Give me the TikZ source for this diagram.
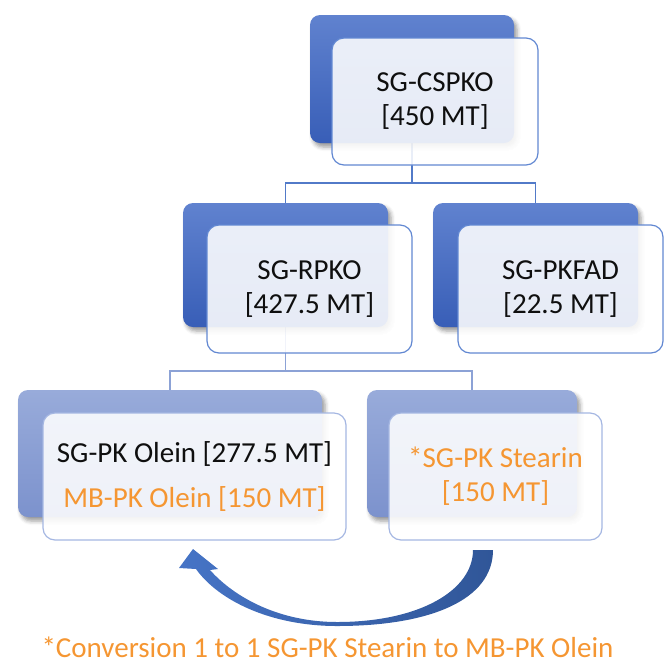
\documentclass[tikz,border=0pt]{standalone}
\usepackage{fontspec}
\setmainfont{Carlito}
\usetikzlibrary{shadows.blur,backgrounds}
\definecolor{dblueT}{RGB}{96,130,207}
\definecolor{dblueB}{RGB}{56,94,183}
\definecolor{lblueT}{RGB}{152,171,218}
\definecolor{lblueB}{RGB}{124,146,205}
\definecolor{edgeD}{RGB}{98,136,210}
\definecolor{edgeL}{RGB}{165,183,226}
\definecolor{lineD}{RGB}{82,122,200}
\definecolor{lineL}{RGB}{140,162,214}
\definecolor{orng}{RGB}{245,150,50}
\definecolor{txt}{RGB}{15,15,15}
\definecolor{arrL}{RGB}{70,116,198}
\definecolor{arrR}{RGB}{48,86,152}
\begin{document}
\begin{tikzpicture}[x=1pt,y=-1pt,
  backbox/.style={rounded corners=10pt, draw=none, inner sep=0pt, outer sep=0pt,
    blur shadow={shadow xshift=3pt, shadow yshift=-4pt, shadow blur radius=4pt, shadow opacity=40}},
  darkback/.style={backbox, top color=dblueT, bottom color=dblueB},
  lightback/.style={backbox, top color=lblueT, bottom color=lblueB},
  frontbox/.style={rounded corners=12pt, fill=white, fill opacity=0.88, text opacity=1,
    line width=1.2pt, inner sep=0pt, outer sep=0pt, align=center,
    font=\fontsize{29}{34}\selectfont, text=txt},
  darkfront/.style={frontbox, draw=edgeD},
  lightfront/.style={frontbox, draw=edgeL},
  linkD/.style={draw=lineD, line width=1.7pt},
  linkL/.style={draw=lineL, line width=1.7pt},
  arrowshape/.style={left color=arrL, right color=arrR, draw=none},
  caption/.style={font=\fontsize{29}{34}\selectfont, text=orng, anchor=base, inner sep=0pt}
]
\useasboundingbox (0,0) rectangle (666,665);

% top level
\node[darkback, minimum width=204pt, minimum height=128pt] (cspkoB) at (412,79) {};
\node[darkfront, minimum width=206pt, minimum height=127pt] (cspko) at (435,101.5) {SG-CSPKO\\{}[450 MT]};

% middle level
\node[darkback, minimum width=205pt, minimum height=124pt] (rpkoB) at (285.5,265) {};
\node[darkfront, minimum width=205pt, minimum height=128pt] (rpko) at (309.5,289) {SG-RPKO\\{}[427.5 MT]};
\node[darkback, minimum width=205pt, minimum height=124pt] (pkfadB) at (535.5,265) {};
\node[darkfront, minimum width=205pt, minimum height=128pt] (pkfad) at (560.5,289) {SG-PKFAD\\{}[22.5 MT]};

% bottom level
\node[lightback, minimum width=304pt, minimum height=127pt] (oleinB) at (170,453.5) {};
\node[lightfront, minimum width=303pt, minimum height=127pt] (olein) at (194.5,476.5)
  {SG-PK Olein [277.5 MT]\\[11pt]\textcolor{orng}{MB-PK Olein [150 MT]}};
\node[lightback, minimum width=210pt, minimum height=127pt] (stearinB) at (472,453.5) {};
\node[lightfront, minimum width=213pt, minimum height=127pt, text=orng] (stearin) at (495.5,476.5)
  {*SG-PK Stearin\\{}[150 MT]};

% connectors
\coordinate (j1) at (412,183);
\coordinate (j2) at (285.5,371);
\begin{scope}[on background layer]
  \draw[linkD] (cspkoB.south) -- (j1) -| (rpkoB.north);
  \draw[linkD] (j1) -| (pkfadB.north);
  \draw[linkL] (rpkoB.south) -- (j2) -| (oleinB.north);
  \draw[linkL] (j2) -| (stearinB.north);
\end{scope}

% curved conversion arrow
\coordinate (tailR) at (493,550);
\coordinate (tailL) at (473,550);
\coordinate (tip) at (193,549);
\shade[arrowshape] (tailR) .. controls (493,600) and (430,626) .. (337,626)
  .. controls (270,626) and (218,600) .. (196,569) -- (179,568) -- (tip) -- (218,569) -- (210,570)
  .. controls (235,598) and (280,622) .. (337,622)
  .. controls (420,622) and (473,590) .. (tailL) -- cycle;

% caption
\node[caption] (note) at (327.5,657) {*Conversion 1 to 1 SG-PK Stearin to MB-PK Olein};
\end{tikzpicture}
\end{document}
